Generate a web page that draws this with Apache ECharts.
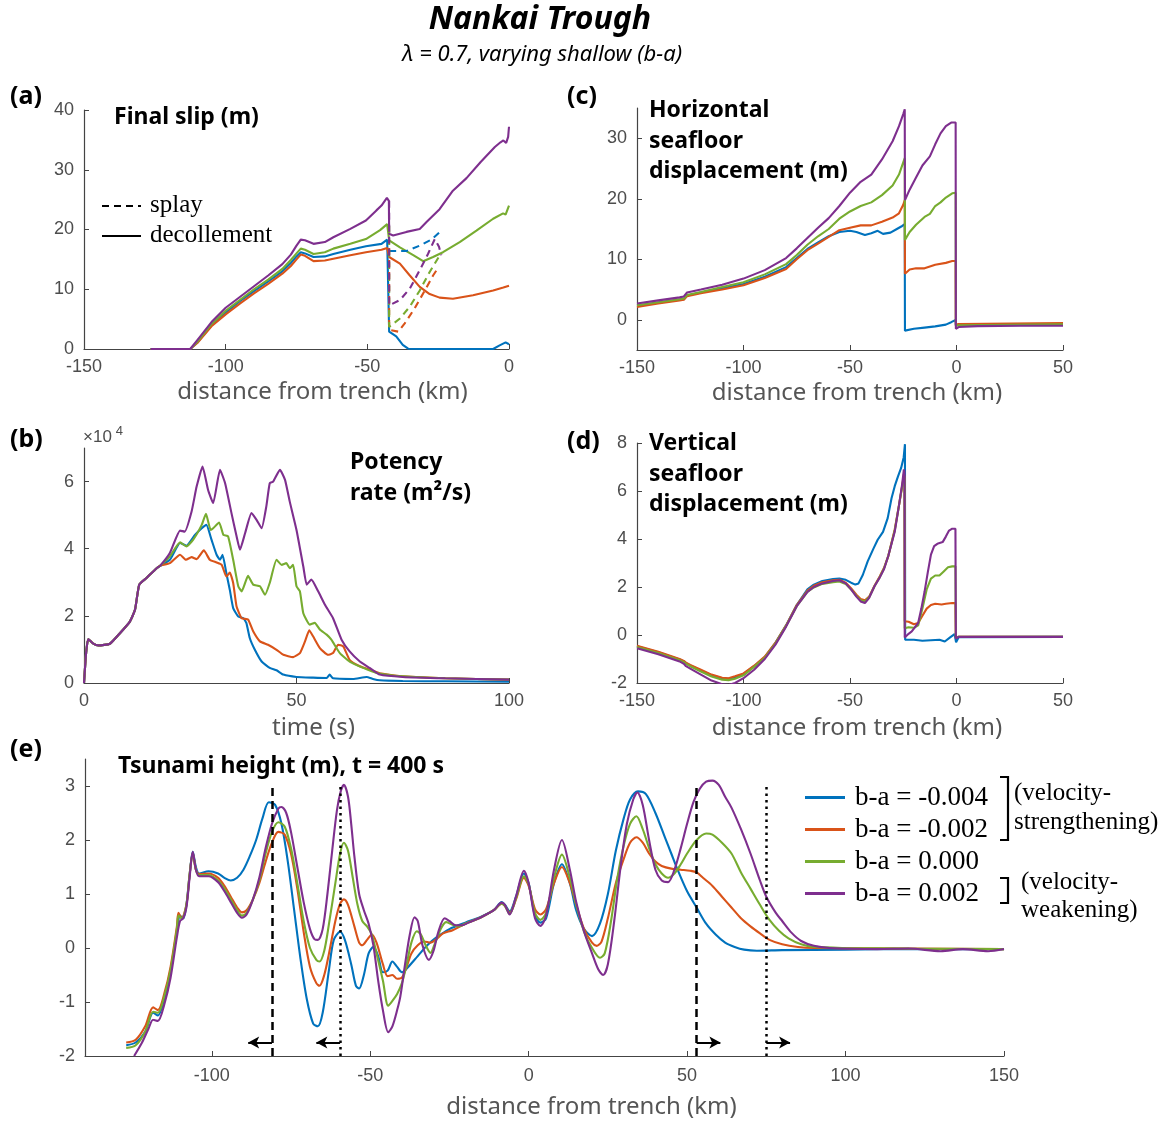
<!DOCTYPE html>
<html>
<head>
<meta charset="utf-8">
<title>Nankai Trough</title>
<script src="https://cdn.jsdelivr.net/npm/echarts@6/dist/echarts.min.js"></script>
<style>
  html, body { margin: 0; padding: 0; background: #fff; }
  #main { width: 1175px; height: 1122px; }
</style>
</head>
<body>
<div id="main"></div>
<script>
// legend names (b-a values), in MATLAB default colour order
var caseNames = ['b-a = -0.004', 'b-a = -0.002', 'b-a = 0.000', 'b-a = 0.002'];

// (a) final slip on the decollement (solid) and on the splay (dashed), [km, m]
var slipBlue = [[-126.5,0],[-112.5,0],[-110,1.1],[-105,4.0],[-100,6.1],[-95,8.0],[-90,9.7],[-85,11.3],[-80,13.0],[-77,14.4],[-75,15.5],[-73.5,16.2],[-72,16.0],[-69,15.4],[-65,15.5],[-62,15.9],[-56,16.6],[-50.5,17.2],[-45,17.6],[-43,18.3],[-42.4,18.0],[-42.3,2.9],[-39.8,2.1],[-37.5,0.7],[-35.6,0.05],[-30,0],[-20,0],[-10,0],[-5.6,0],[-3.3,0.6],[-1.2,1.1],[0,0.8]];
var slipOrange = [[-126.5,0],[-112.5,0],[-110,1.0],[-105,3.8],[-100,5.8],[-95,7.6],[-90,9.3],[-85,10.9],[-80,12.6],[-77,13.9],[-75,15.0],[-73.5,15.8],[-72,15.6],[-69,14.7],[-65,14.8],[-62,15.1],[-56,15.7],[-50.5,16.2],[-45,16.6],[-43,16.9],[-42.4,16.9],[-42.3,15.4],[-38.5,14.3],[-35,12.3],[-31.5,10.4],[-28,9.2],[-24.5,8.6],[-19.8,8.4],[-12.7,9.0],[-5.6,9.8],[-2,10.3],[0,10.6]];
var slipGreen = [[-126.5,0],[-112.5,0],[-110,1.2],[-105,4.2],[-100,6.4],[-95,8.2],[-90,10.0],[-85,11.6],[-80,13.4],[-77,14.9],[-75,16.0],[-73.5,16.8],[-72,16.6],[-69,15.9],[-65,16.2],[-62,16.8],[-56,17.6],[-50.5,18.4],[-45.5,19.9],[-43,20.9],[-42.4,20.6],[-42.3,18.2],[-38.5,17.0],[-33.8,15.7],[-30.3,14.7],[-26.8,15.4],[-23.3,16.2],[-17.4,17.9],[-11.5,19.8],[-5.6,21.8],[-2.1,22.7],[-1.2,22.5],[0,24.0]];
var slipPurple = [[-126.5,0],[-112.5,0],[-110,1.5],[-105,4.5],[-100,6.9],[-95,8.7],[-90,10.5],[-85,12.3],[-80,14.2],[-77,15.8],[-75,17.3],[-73.5,18.3],[-72,18.2],[-69,17.6],[-65,17.9],[-62,18.7],[-56,20.1],[-50.5,21.5],[-46.8,23.2],[-45,24.0],[-43.1,25.3],[-42.4,24.8],[-42.3,19.3],[-40.9,19.0],[-36.2,19.6],[-31.5,20.1],[-29.2,21.2],[-24.5,23.4],[-19.8,26.5],[-15,28.6],[-10,31.3],[-5,33.8],[-3,34.6],[-2,34.9],[-1,34.5],[-0.3,35.5],[0,37.2]];
var splayBlue = [[-42.3,16.4],[-36.2,16.4],[-31.5,17.3],[-27.4,18.3],[-23.9,19.8]];
var splayOrange = [[-42.3,16.9],[-42.3,3.2],[-39.1,2.9],[-36.8,4.3],[-33.3,6.8],[-29.7,9.8],[-26.8,12.3],[-24.7,13.8]];
var splayGreen = [[-42.3,20.6],[-42.3,3.7],[-38.5,5.1],[-35,7.1],[-31.5,9.8],[-28,12.9],[-24.8,15.4],[-23.9,15.7]];
var splayPurple = [[-42.3,24.8],[-42.3,7.3],[-38.5,8.2],[-35,10.1],[-31.5,13.2],[-28.6,15.9],[-26.2,18.4],[-24.7,17.1],[-23.9,15.7]];

// (b) potency rate, [s, 1e4 m^2/s]; identical for all cases up to ~18 s
var rateStart = [[0,0],[0.5,0.9],[1,1.31],[2.2,1.17],[3.4,1.12],[6.1,1.17],[8.5,1.49],[10.8,1.83],[12,2.18],[13,2.93],[14.7,3.13],[17.1,3.42],[17.9,3.49]];
var rateBlue = [[20.2,3.67],[22.6,4.17],[24.1,4.09],[26.1,4.41],[27.7,4.61],[28.8,4.71],[30,4.27],[31.2,3.82],[32,3.67],[32.6,3.82],[33.5,3.27],[34.3,2.78],[35.1,2.23],[36.3,1.98],[37.5,1.93],[38.2,1.79],[39,1.34],[40.2,0.99],[41.8,0.64],[43.7,0.45],[45.3,0.38],[46.9,0.25],[50,0.18],[53.9,0.16],[57.1,0.15],[57.8,0.25],[58.6,0.14],[63.3,0.12],[66.5,0.18],[68,0.12],[69.6,0.08],[75,0.06],[85,0.05],[100,0.04]];
var rateOrange = [[20.2,3.57],[22.6,3.82],[24,3.67],[25.3,3.75],[26.5,3.69],[28.2,3.95],[29.6,3.67],[31.2,3.59],[32.4,3.52],[33.5,3.17],[34.3,3.29],[35.1,2.98],[35.9,2.28],[37.1,1.93],[38.6,1.89],[39.8,1.54],[41.4,1.24],[43.3,1.14],[45.3,0.99],[46.9,0.84],[49.2,0.77],[50.8,0.89],[52,1.24],[53,1.57],[53.9,1.39],[55.5,1.04],[57.4,0.84],[58.6,0.89],[59.8,1.14],[61,1.09],[62.5,0.69],[64.9,0.5],[67.2,0.4],[70,0.28],[75,0.2],[85,0.14],[100,0.1]];
var rateGreen = [[20.2,3.77],[22.6,4.19],[24.1,4.07],[25.7,4.27],[27.7,4.71],[28.7,5.04],[29.8,4.56],[30.4,4.61],[31.8,4.78],[32.8,4.41],[33.9,4.37],[35.1,3.67],[36.3,2.88],[37.1,2.73],[38.6,3.19],[39.8,2.93],[41.4,2.88],[42.6,2.63],[43.7,2.98],[45.3,3.67],[46.5,3.52],[47.6,3.57],[48.4,3.42],[49.2,3.52],[50,2.88],[50.8,2.73],[51.6,2.08],[53.1,1.74],[54.3,1.79],[55.5,1.59],[57.1,1.44],[58.2,1.29],[60.2,0.89],[62.5,0.64],[65.7,0.45],[68.8,0.3],[75,0.2],[85,0.14],[100,0.1]];
var ratePurple = [[20.2,3.87],[22.6,4.54],[23.7,4.51],[25.3,5.1],[26.5,5.85],[27.9,6.45],[29.2,5.75],[30.4,5.36],[32,6.35],[33.2,5.95],[34.7,5.06],[35.9,4.37],[36.7,3.97],[37.9,4.46],[39.4,5.06],[40.6,4.86],[41.8,4.61],[42.9,5.26],[43.7,5.95],[44.5,6.0],[46.1,6.35],[47.3,6.05],[48.4,5.41],[50,4.56],[51.6,3.47],[52.4,2.93],[53.5,3.08],[55.1,2.73],[56.7,2.33],[58.6,1.93],[60.6,1.29],[62.5,0.94],[64.9,0.64],[67.2,0.45],[69.6,0.25],[75,0.18],[85,0.14],[100,0.1]];

// (c) horizontal seafloor displacement, [km, m]
var horizBlue = [[-150,2.3],[-140,2.8],[-130,3.3],[-128,3.4],[-127.5,3.2],[-126.5,4.0],[-120,4.5],[-110,5.2],[-100,5.9],[-90,7.1],[-80,8.7],[-75,10.2],[-70,11.7],[-65,12.8],[-60,13.8],[-55,14.5],[-50,14.7],[-47,14.5],[-43,14.0],[-40,14.3],[-37,14.7],[-34.5,14.2],[-31,14.4],[-28,15.0],[-25.5,15.5],[-24.3,15.8],[-24.2,-1.8],[-20,-1.5],[-15,-1.3],[-10,-1.1],[-5,-0.8],[-2.5,-0.4],[-0.4,-0.05],[-0.3,-0.9],[1,-0.9],[50,-0.85]];
var horizOrange = [[-150,2.1],[-140,2.7],[-130,3.2],[-128,3.3],[-127.5,3.1],[-126.5,3.9],[-120,4.4],[-110,5.0],[-100,5.7],[-90,6.9],[-80,8.4],[-75,10.0],[-70,11.5],[-65,12.6],[-60,13.7],[-55,14.8],[-50,15.2],[-45,15.6],[-40,15.6],[-35,16.2],[-30,16.9],[-27,17.6],[-25,19.0],[-24.3,19.8],[-24.2,7.6],[-22,8.3],[-19,8.5],[-15,8.5],[-12.5,8.8],[-10,9.1],[-5,9.4],[-2,9.7],[-0.4,9.7],[-0.3,-0.8],[1,-0.7],[50,-0.55]];
var horizGreen = [[-150,2.4],[-140,2.9],[-130,3.4],[-128,3.5],[-127.5,3.3],[-126.5,4.1],[-120,4.6],[-110,5.4],[-100,6.2],[-90,7.5],[-80,9.2],[-75,10.7],[-70,12.4],[-65,13.8],[-60,15.0],[-55,16.7],[-50,17.9],[-45,18.8],[-40,19.4],[-35,20.6],[-30,22.2],[-27,24.0],[-25,26.0],[-24.3,26.7],[-24.2,13.2],[-22,14.5],[-19,15.7],[-15,17.0],[-12.5,17.5],[-10,18.8],[-7.5,19.4],[-5,20.2],[-2,20.9],[-0.4,21.0],[-0.3,-1.0],[1,-0.9],[50,-0.75]];
var horizPurple = [[-150,2.7],[-140,3.2],[-130,3.7],[-128,3.85],[-127.5,3.6],[-126.5,4.5],[-120,5.0],[-110,5.8],[-100,6.8],[-90,8.2],[-80,10.2],[-75,11.8],[-70,13.5],[-65,15.2],[-60,16.8],[-55,18.8],[-50,21.0],[-45,22.8],[-40,24.0],[-35,26.5],[-30,29.5],[-27,32.0],[-25,34.0],[-24.3,34.8],[-24.2,19.8],[-22,21.5],[-19,23.5],[-16,25.5],[-12.5,27.0],[-10,29.0],[-7.5,30.8],[-5,32.0],[-2.5,32.6],[-0.4,32.6],[-0.3,-1.5],[1,-1.2],[10,-1.05],[30,-1.0],[50,-1.0]];

// (d) vertical seafloor displacement, [km, m]
var vertBlue = [[-150,-0.47],[-140,-0.72],[-130,-1.02],[-128,-1.1],[-127,-1.17],[-125,-1.27],[-120,-1.48],[-115,-1.68],[-110,-1.8],[-107,-1.82],[-104,-1.76],[-100,-1.63],[-95,-1.3],[-90,-0.92],[-85,-0.33],[-80,0.4],[-75,1.25],[-70,1.9],[-67,2.1],[-63,2.25],[-58,2.33],[-55,2.35],[-52,2.3],[-49.5,2.18],[-47.5,2.1],[-46,2.15],[-44,2.5],[-41.7,3.07],[-39,3.6],[-37,3.97],[-34.5,4.3],[-32.3,4.87],[-30.5,5.7],[-29,6.2],[-27.5,6.6],[-26,6.96],[-24.8,7.4],[-24.2,7.95],[-24.1,-0.2],[-20,-0.2],[-16,-0.24],[-12,-0.22],[-8,-0.2],[-5.5,-0.27],[-3,-0.1],[-0.9,0.04],[-0.3,0.04],[-0.2,-0.3],[1,-0.09],[50,-0.08]];
var vertOrange = [[-150,-0.45],[-140,-0.7],[-130,-1.0],[-128,-1.08],[-127,-1.15],[-125,-1.25],[-120,-1.45],[-115,-1.65],[-110,-1.78],[-107,-1.8],[-104,-1.72],[-100,-1.6],[-95,-1.28],[-90,-0.9],[-85,-0.32],[-80,0.4],[-75,1.25],[-70,1.85],[-67,2.05],[-63,2.2],[-58,2.28],[-55,2.3],[-52,2.18],[-49.5,1.95],[-47,1.68],[-45,1.5],[-43,1.45],[-41,1.6],[-38.5,2.05],[-36,2.45],[-34,2.8],[-32,3.3],[-29,4.4],[-27,5.4],[-25.5,6.2],[-24.7,6.7],[-24.4,6.6],[-24.3,0.57],[-22.5,0.55],[-20,0.45],[-18,0.5],[-16,0.8],[-14,1.1],[-12,1.25],[-10,1.3],[-7,1.27],[-5,1.3],[-2,1.33],[-0.5,1.33],[-0.3,-0.1],[1,-0.07],[50,-0.07]];
var vertGreen = [[-150,-0.5],[-140,-0.75],[-130,-1.05],[-128,-1.13],[-127,-1.2],[-125,-1.3],[-120,-1.52],[-115,-1.73],[-110,-1.86],[-107,-1.88],[-104,-1.82],[-100,-1.68],[-95,-1.33],[-90,-0.95],[-85,-0.36],[-80,0.38],[-75,1.2],[-70,1.8],[-67,1.98],[-63,2.13],[-58,2.2],[-55,2.23],[-52,2.12],[-49.5,1.9],[-47,1.63],[-45,1.45],[-43,1.4],[-41,1.57],[-38.5,2.03],[-36,2.42],[-34,2.78],[-32,3.3],[-29,4.35],[-27,5.4],[-25.5,6.2],[-24.7,6.6],[-24.4,6.5],[-24.3,0.28],[-22.5,0.32],[-20,0.3],[-18,0.4],[-16,1.1],[-14,1.9],[-12,2.35],[-10,2.48],[-8,2.48],[-6,2.65],[-4,2.82],[-2,2.86],[-0.5,2.86],[-0.3,-0.1],[1,-0.07],[50,-0.07]];
var vertPurple = [[-150,-0.55],[-140,-0.8],[-130,-1.1],[-128,-1.2],[-127,-1.3],[-125,-1.4],[-120,-1.65],[-115,-1.9],[-110,-2.05],[-107,-2.08],[-104,-2.0],[-100,-1.8],[-95,-1.45],[-90,-1.0],[-85,-0.4],[-80,0.35],[-75,1.2],[-70,1.8],[-67,2.0],[-63,2.15],[-58,2.25],[-55,2.28],[-52,2.15],[-49.5,1.9],[-47,1.6],[-45,1.4],[-43,1.33],[-41,1.55],[-38.5,2.03],[-36,2.4],[-34,2.75],[-32,3.3],[-29,4.3],[-27,5.4],[-25.5,6.3],[-24.7,6.9],[-24.4,6.8],[-24.3,-0.1],[-22.5,0.05],[-21,0.15],[-18,0.5],[-16.5,1.1],[-15,1.8],[-13.5,2.6],[-12,3.35],[-10.5,3.7],[-9,3.8],[-6.5,3.87],[-5,4.1],[-3.5,4.35],[-2,4.43],[-0.5,4.43],[-0.3,-0.15],[1,-0.08],[50,-0.08]];

// (e) tsunami height at t = 400 s, [km, m]
var waveBlue = [[-127,-1.8],[-124,-1.75],[-121,-1.55],[-118.5,-1.2],[-117,-1.25],[-115,-0.95],[-113,-0.45],[-111,0.3],[-110,0.6],[-109,0.55],[-108,0.8],[-107,1.35],[-106,1.78],[-105,1.5],[-104,1.38],[-101,1.42],[-98,1.38],[-96,1.3],[-94,1.25],[-92,1.3],[-90,1.45],[-88,1.7],[-86,2.0],[-84,2.4],[-82,2.7],[-80,2.65],[-78,2.3],[-76,1.6],[-74,0.7],[-72,-0.2],[-70,-0.95],[-68,-1.4],[-66.5,-1.45],[-65,-1.2],[-63,-0.4],[-61.5,0.15],[-59.5,0.3],[-58,0.15],[-56,-0.3],[-54.5,-0.7],[-53.5,-0.75],[-52,-0.5],[-50.5,-0.1],[-49,0.02],[-47.5,-0.15],[-46,-0.45],[-44.5,-0.42],[-43,-0.25],[-41.5,-0.35],[-40,-0.45],[-38,-0.35],[-35,-0.15],[-32,0.05],[-29,0.2],[-25,0.35],[-20,0.47],[-15,0.58],[-11,0.7],[-8.5,0.85],[-7.5,0.8],[-6,0.68],[-4,0.95],[-1.5,1.38],[0,1.2],[2,0.6],[3.7,0.47],[5.5,0.55],[8,1.2],[10.5,1.55],[13,1.2],[15,0.7],[17.5,0.35],[20,0.22],[22.5,0.45],[25,1.0],[27.5,1.8],[30,2.4],[32,2.75],[34.5,2.9],[37,2.85],[40,2.5],[43,2.05],[45,1.75],[47,1.45],[50,1.05],[53,0.75],[56,0.45],[59,0.25],[62,0.1],[65,0.02],[68,-0.03],[72,-0.05],[80,-0.04],[100,-0.03],[120,-0.02],[150,-0.02]];
var waveOrange = [[-127,-1.75],[-124,-1.7],[-121,-1.45],[-118.5,-1.1],[-117,-1.15],[-115,-0.85],[-113,-0.35],[-111,0.4],[-110.5,0.65],[-109.5,0.55],[-108,0.8],[-107,1.35],[-106,1.75],[-105,1.45],[-104,1.37],[-101,1.38],[-98,1.3],[-96,1.15],[-94,0.95],[-92,0.75],[-90.5,0.66],[-89,0.7],[-87,0.9],[-85,1.2],[-83,1.6],[-81,1.95],[-79,2.15],[-77,2.1],[-75,1.75],[-73,1.1],[-71,0.3],[-69,-0.35],[-67,-0.65],[-66,-0.7],[-64.5,-0.5],[-63,-0.1],[-61,0.5],[-59.5,0.82],[-58.3,0.9],[-57,0.8],[-55,0.4],[-53.5,0.1],[-52.5,0.05],[-51,0.15],[-49.5,0.25],[-48,0.1],[-46,-0.3],[-44.5,-0.52],[-43,-0.5],[-41.5,-0.57],[-40,-0.55],[-38.5,-0.35],[-37,-0.1],[-35,0.05],[-33,0.12],[-31,0.1],[-29,0.17],[-27,0.27],[-24,0.33],[-20,0.45],[-15,0.57],[-11,0.7],[-8.5,0.82],[-7.5,0.78],[-6,0.65],[-4,0.9],[-1.5,1.3],[0,1.15],[2,0.72],[3.7,0.62],[5.5,0.72],[8,1.2],[10.5,1.5],[13,1.2],[15,0.8],[17.5,0.35],[20,0.1],[21.5,0.04],[23,0.12],[25,0.55],[27.5,1.2],[30,1.65],[32,1.95],[34,2.05],[36,1.95],[38,1.75],[40,1.6],[42,1.52],[45,1.47],[48,1.45],[51,1.43],[53,1.4],[55,1.3],[58,1.15],[61,0.95],[64,0.75],[67,0.55],[70,0.4],[73,0.27],[76,0.15],[80,0.07],[85,0.02],[90,0],[120,-0.01],[150,-0.02]];
var waveGreen = [[-127,-1.85],[-124,-1.8],[-121,-1.55],[-118.5,-1.18],[-117,-1.2],[-115,-0.9],[-113,-0.4],[-111,0.35],[-110.5,0.6],[-109.5,0.55],[-108,0.8],[-107,1.35],[-106,1.76],[-105,1.45],[-104,1.35],[-101,1.35],[-98,1.25],[-96,1.1],[-94,0.9],[-92,0.7],[-90.5,0.6],[-89,0.65],[-87,0.9],[-85,1.25],[-83,1.75],[-81,2.15],[-79,2.33],[-77,2.25],[-75,1.85],[-73,1.2],[-71,0.5],[-69,0.0],[-67,-0.22],[-66,-0.25],[-64.5,-0.05],[-63,0.45],[-61,1.2],[-59.5,1.75],[-58.3,1.95],[-57,1.8],[-55.5,1.3],[-54,0.8],[-52.5,0.5],[-51,0.4],[-49.5,0.25],[-48,-0.1],[-46,-0.6],[-44.3,-1.07],[-43,-0.98],[-41.5,-0.85],[-40,-0.65],[-38.5,-0.3],[-37,0.1],[-35.3,0.31],[-34,0.25],[-32.5,0.05],[-31,-0.09],[-29.5,0.1],[-27.5,0.38],[-26,0.48],[-24,0.43],[-22,0.4],[-20,0.45],[-15,0.57],[-11,0.7],[-8.5,0.82],[-7.5,0.78],[-6,0.63],[-4,0.92],[-1.5,1.33],[0,1.18],[2,0.65],[3.7,0.52],[5.5,0.65],[8,1.3],[10.5,1.73],[13,1.3],[15,0.8],[17.5,0.3],[20,0.0],[22.5,-0.18],[24,-0.1],[26,0.5],[28,1.3],[30,1.9],[32,2.3],[34,2.44],[36,2.2],[38,1.85],[40,1.55],[42,1.38],[44,1.3],[46,1.38],[48,1.55],[50,1.75],[53,2.0],[56,2.12],[58,2.1],[61,1.95],[64,1.75],[67,1.4],[70,1.1],[73,0.8],[76,0.52],[79,0.32],[82,0.18],[86,0.07],[90,0.02],[100,0],[120,-0.01],[150,-0.02]];
var wavePurple = [[-124.5,-2.0],[-122,-1.75],[-120,-1.5],[-118.5,-1.33],[-117,-1.35],[-115,-1.05],[-113,-0.55],[-111,0.2],[-110,0.5],[-109,0.55],[-108,0.75],[-107,1.3],[-106,1.78],[-105,1.45],[-104,1.33],[-101,1.33],[-98,1.22],[-96,1.05],[-94,0.85],[-92,0.65],[-90.5,0.56],[-89,0.62],[-87,0.9],[-85,1.3],[-83,1.85],[-81,2.3],[-79,2.58],[-78,2.61],[-76.5,2.5],[-75,2.15],[-73,1.5],[-71,0.85],[-69,0.35],[-67.5,0.16],[-66.5,0.15],[-65,0.35],[-63.5,1.0],[-62,1.8],[-60.5,2.55],[-59.3,2.9],[-58.3,3.02],[-57,2.8],[-56,2.3],[-55,1.7],[-53.5,1.0],[-52,0.7],[-50.5,0.45],[-49,0.05],[-47.5,-0.6],[-46,-1.15],[-44.3,-1.56],[-43,-1.45],[-41.5,-1.15],[-40.5,-0.9],[-39,-0.3],[-37.5,0.25],[-36,0.57],[-35,0.5],[-33.5,0.05],[-31.5,-0.22],[-30,-0.05],[-28.5,0.3],[-26.5,0.55],[-25,0.5],[-23,0.42],[-21,0.42],[-19,0.47],[-15,0.57],[-11,0.7],[-8.5,0.84],[-7.5,0.8],[-6,0.62],[-4,0.95],[-1.5,1.43],[0,1.2],[2,0.55],[3.7,0.41],[5.5,0.6],[8,1.45],[10.5,2.0],[13,1.45],[15,0.85],[17.5,0.3],[20,-0.1],[22,-0.4],[23.5,-0.5],[25,-0.3],[27,0.5],[29,1.5],[31,2.3],[33,2.75],[34.3,2.88],[36,2.65],[38,2.0],[40,1.45],[42,1.25],[44,1.22],[46,1.45],[48,1.85],[50,2.3],[52,2.7],[54,2.95],[56,3.08],[58,3.1],[60,3.02],[62,2.8],[64,2.6],[67,2.2],[70,1.75],[73,1.25],[75,0.95],[78,0.65],[80,0.5],[83,0.28],[86,0.13],[90,0.04],[95,0.0],[110,-0.02],[120,-0.01],[130,-0.06],[137,-0.02],[145,-0.06],[150,-0.02]];

// (e) rupture-front markers: position (km), direction of travel
var frontDashed = [[-81, -1], [53, 1]];
var frontDotted = [[-59.5, -1], [75, 1]];

var colors = ['#0072BD', '#D95319', '#77AC30', '#7E2F8E'];
var tickFont = 'Liberation Sans, Arial, sans-serif';
var labelFont = 'Noto Sans, sans-serif';
var serif = 'Liberation Serif, Times New Roman, serif';

function xAxisFor(grid, min, max, ticks, name, shift, gap, margin) {
  return {
    type: 'value', gridIndex: grid, min: min, max: max,
    name: name, nameLocation: 'middle', nameGap: gap,
    nameTextStyle: { fontFamily: labelFont, fontSize: 24, color: '#555', padding: [0, 0, 0, shift * 2] },
    axisLine: { onZero: false, lineStyle: { color: '#444', width: 1.2 } },
    axisTick: { inside: true, length: 5, customValues: ticks, lineStyle: { color: '#444' } },
    axisLabel: { customValues: ticks, fontFamily: tickFont, fontSize: 18, color: '#4d4d4d', margin: margin || 9 },
    splitLine: { show: false }
  };
}
function yAxisFor(grid, min, max, ticks) {
  return {
    type: 'value', gridIndex: grid, min: min, max: max,
    axisLine: { show: true, onZero: false, lineStyle: { color: '#444', width: 1.2 } },
    axisTick: { show: true, inside: true, length: 5, customValues: ticks, lineStyle: { color: '#444' } },
    axisLabel: { customValues: ticks, fontFamily: tickFont, fontSize: 18, color: '#4d4d4d', margin: 10 },
    splitLine: { show: false }
  };
}
function line(grid, idx, data, opts) {
  var s = {
    type: 'line', name: caseNames[idx], xAxisIndex: grid, yAxisIndex: grid,
    data: data, symbol: 'none', animation: false, silent: true,
    lineStyle: { color: colors[idx], width: 2.1 }, itemStyle: { color: colors[idx] }
  };
  if (opts) { for (var k in opts) s[k] = opts[k]; }
  return s;
}

var series = [
  line(0, 0, slipBlue), line(0, 1, slipOrange), line(0, 2, slipGreen), line(0, 3, slipPurple),
  line(0, 0, splayBlue, { name: 'splay blue', lineStyle: { color: colors[0], width: 2.1, type: [7, 5] } }),
  line(0, 1, splayOrange, { name: 'splay orange', lineStyle: { color: colors[1], width: 2.1, type: [7, 5] } }),
  line(0, 2, splayGreen, { name: 'splay green', lineStyle: { color: colors[2], width: 2.1, type: [7, 5] } }),
  line(0, 3, splayPurple, { name: 'splay purple', lineStyle: { color: colors[3], width: 2.1, type: [7, 5] } }),
  line(1, 0, rateStart.concat(rateBlue), { smooth: 0.15 }), line(1, 1, rateStart.concat(rateOrange), { smooth: 0.15 }),
  line(1, 2, rateStart.concat(rateGreen), { smooth: 0.15 }), line(1, 3, rateStart.concat(ratePurple), { smooth: 0.15 }),
  line(2, 0, horizBlue), line(2, 1, horizOrange), line(2, 2, horizGreen), line(2, 3, horizPurple),
  line(3, 0, vertBlue), line(3, 1, vertOrange), line(3, 2, vertGreen), line(3, 3, vertPurple),
  line(4, 0, waveBlue, { smooth: 0.3 }), line(4, 1, waveOrange, { smooth: 0.3 }),
  line(4, 2, waveGreen, { smooth: 0.3 }), line(4, 3, wavePurple, { smooth: 0.3 })
];

// vertical front lines and arrows in (e)
function frontLines(list, dash) {
  return list.map(function (f) {
    return [{ coord: [f[0], -2], lineStyle: { type: dash } }, { coord: [f[0], 3] }];
  });
}
function frontArrows(list) {
  return list.map(function (f) {
    return [{ coord: [f[0], -1.75] }, { coord: [f[0] + f[1] * 7.5, -1.75] }];
  });
}
series.push({
  type: 'line', name: 'fronts', xAxisIndex: 4, yAxisIndex: 4, data: [], animation: false, silent: true,
  markLine: {
    silent: true, animation: false, symbol: ['none', 'none'], label: { show: false },
    lineStyle: { color: '#000', width: 2.5 },
    data: frontLines(frontDashed, [8, 5]).concat(frontLines(frontDotted, [2.5, 4]))
  }
});
series.push({
  type: 'line', name: 'arrows', xAxisIndex: 4, yAxisIndex: 4, data: [], animation: false, silent: true,
  markLine: {
    silent: true, animation: false, symbol: ['none', 'arrow'], symbolSize: [9, 11], label: { show: false },
    lineStyle: { color: '#000', width: 2, type: 'solid' },
    data: frontArrows(frontDashed).concat(frontArrows(frontDotted))
  }
});

function txt(x, y, s, size, weight, extra) {
  var st = { text: s, x: x, y: y, fill: '#000', fontSize: size, fontWeight: weight || 'normal',
             fontFamily: labelFont, verticalAlign: 'middle', align: 'left' };
  if (extra) { for (var k in extra) st[k] = extra[k]; }
  return { type: 'text', silent: true, style: st };
}

var option = {
  backgroundColor: '#fff',
  animation: false,
  grid: [
    { left: 84, top: 110, width: 425, height: 239 },
    { left: 84, top: 448, width: 425, height: 235 },
    { left: 637, top: 108, width: 426, height: 242 },
    { left: 637, top: 443, width: 426, height: 240 },
    { left: 85, top: 759, width: 919, height: 297 }
  ],
  xAxis: [
    xAxisFor(0, -150, 0, [-150, -100, -50, 0], 'distance from trench (km)', 26, 31),
    xAxisFor(1, 0, 100, [0, 50, 100], 'time (s)', 17, 33),
    xAxisFor(2, -150, 50, [-150, -100, -50, 0, 50], 'distance from trench (km)', 7, 31),
    xAxisFor(3, -150, 50, [-150, -100, -50, 0, 50], 'distance from trench (km)', 7, 33),
    xAxisFor(4, -140, 150, [-100, -50, 0, 50, 100, 150], 'distance from trench (km)', 47, 39, 11)
  ],
  yAxis: [
    yAxisFor(0, 0, 40, [0, 10, 20, 30, 40]),
    yAxisFor(1, 0, 7, [0, 2, 4, 6]),
    yAxisFor(2, -5, 35, [0, 10, 20, 30]),
    yAxisFor(3, -2, 8, [-2, 0, 2, 4, 6, 8]),
    yAxisFor(4, -2, 3.5, [-2, -1, 0, 1, 2, 3])
  ],
  legend: {
    data: caseNames, orient: 'vertical', left: 800, top: 779, itemWidth: 40, itemHeight: 3, itemGap: 5,
    icon: 'rect', selectedMode: false,
    textStyle: { fontFamily: serif, fontSize: 27, color: '#000', padding: [0, 0, 0, 5] }
  },
  series: series,
  graphic: [
    txt(540, 20, 'Nankai Trough', 32, 'bold', { align: 'center', fontStyle: 'italic' }),
    txt(542, 55, 'λ = 0.7, varying shallow (b-a)', 22, 'normal', { align: 'center', fontStyle: 'italic' }),
    txt(10, 97, '(a)', 25, 'bold'),
    txt(10, 440, '(b)', 25, 'bold'),
    txt(567, 97, '(c)', 25, 'bold'),
    txt(567, 442, '(d)', 25, 'bold'),
    txt(10, 750, '(e)', 25, 'bold'),
    txt(114, 117, 'Final slip (m)', 23, 'bold'),
    txt(350, 478, 'Potency\nrate (m²/s)', 23, 'bold', { lineHeight: 31 }),
    txt(649, 141, 'Horizontal\nseafloor\ndisplacement (m)', 23, 'bold', { lineHeight: 30.5 }),
    txt(649, 474, 'Vertical\nseafloor\ndisplacement (m)', 23, 'bold', { lineHeight: 30.5 }),
    txt(118, 766, 'Tsunami height (m), t = 400 s', 23, 'bold'),
    {
      type: 'text', silent: true,
      style: { text: '×10{s|4}', x: 83, y: 437, fill: '#4d4d4d', fontSize: 17, fontFamily: tickFont,
               verticalAlign: 'middle', rich: { s: { fontSize: 13, fill: '#4d4d4d', fontFamily: tickFont, padding: [0, 0, 12, 4] } } }
    },
    // splay / decollement key in (a)
    { type: 'line', silent: true, shape: { x1: 102, y1: 206, x2: 141, y2: 206 }, style: { stroke: '#000', lineWidth: 2, lineDash: [7, 5] } },
    { type: 'line', silent: true, shape: { x1: 102, y1: 236, x2: 141, y2: 236 }, style: { stroke: '#000', lineWidth: 2 } },
    txt(150, 205, 'splay', 25, 'normal', { fontFamily: serif }),
    txt(150, 235, 'decollement', 25, 'normal', { fontFamily: serif }),
    // brackets and notes next to the legend in (e)
    { type: 'polyline', silent: true, shape: { points: [[1000, 777], [1008, 777], [1008, 840], [1000, 840]] }, style: { stroke: '#000', lineWidth: 2.2, fill: null } },
    { type: 'polyline', silent: true, shape: { points: [[1000, 878], [1008, 878], [1008, 903], [1000, 903]] }, style: { stroke: '#000', lineWidth: 2.2, fill: null } },
    txt(1014, 793, '(velocity-', 25, 'normal', { fontFamily: serif }),
    txt(1014, 822, 'strengthening)', 25, 'normal', { fontFamily: serif }),
    txt(1021, 882, '(velocity-', 25, 'normal', { fontFamily: serif }),
    txt(1021, 910, 'weakening)', 25, 'normal', { fontFamily: serif })
  ]
};

var chart = echarts.init(document.getElementById('main'), null, { renderer: 'canvas' });
chart.setOption(option);
</script>
</body>
</html>
